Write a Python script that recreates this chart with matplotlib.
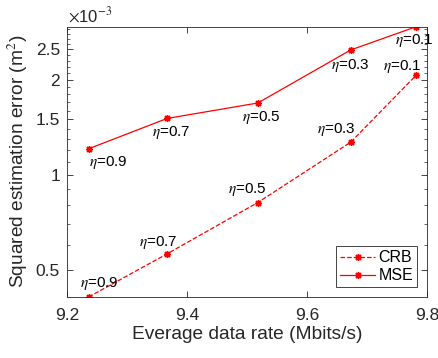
import matplotlib
matplotlib.use('Agg')
import matplotlib.pyplot as plt
from matplotlib.ticker import FixedLocator, MultipleLocator, NullFormatter

plt.rcParams['font.family'] = ['Liberation Sans', 'DejaVu Sans']
plt.rcParams['mathtext.fontset'] = 'stix'

# data (y values in units of 1e-3)
rate = [9.236, 9.367, 9.518, 9.673, 9.782]
eta = ['0.9', '0.7', '0.5', '0.3', '0.1']
crb = [0.41, 0.562, 0.817, 1.27, 2.07]
mse = [1.21, 1.51, 1.69, 2.49, 2.95]

# label offsets in pixels (dx, dy)
mse_off = [(0, -14), (-15, -14), (-16, -14), (-20, -16), (-21, -14)]
crb_off = [(-9, 13), (-28, 11), (-30, 13), (-34, 13), (-33, 9)]

gray = '#262626'
star = (8, 2, 0)  # matlab style asterisk
fig = plt.figure(figsize=(4.39, 3.58), dpi=100)
ax = fig.add_axes([0.1526, 0.1704, 0.820, 0.755])

ax.plot(rate, crb, 'r--', marker=star, lw=0.9, ms=5, mew=1.0, label='CRB')
ax.plot(rate, mse, 'r-', marker=star, lw=0.9, ms=5, mew=1.0, label='MSE')

for x, y, e, o in zip(rate, mse, eta, mse_off):
    ax.annotate(r'$\eta$=' + e, (x, y), xytext=o, textcoords='offset pixels',
                ha='left', va='center', fontsize=11)
for x, y, e, o in zip(rate, crb, eta, crb_off):
    ax.annotate(r'$\eta$=' + e, (x, y), xytext=o, textcoords='offset pixels',
                ha='left', va='center', fontsize=11)

ax.set_yscale('log')
ax.set_xlim(9.2, 9.8)
ax.set_ylim(min(crb), max(mse))
ax.set_xticks([9.2, 9.4, 9.6, 9.8])
ax.set_xticklabels(['9.2', '9.4', '9.6', '9.8'])
ax.yaxis.set_major_locator(FixedLocator([0.5, 1, 1.5, 2, 2.5]))
ax.set_yticklabels(['0.5', '1', '1.5', '2', '2.5'])
ax.yaxis.set_minor_locator(MultipleLocator(0.1))
ax.yaxis.set_minor_formatter(NullFormatter())

ax.tick_params(which='both', direction='in', top=True, right=True,
               colors=gray, labelsize=12.5, labelcolor=gray)
ax.tick_params(which='major', length=4, width=0.6)
ax.tick_params(axis='x', which='major', pad=8)
ax.tick_params(axis='y', which='major', pad=5)
ax.tick_params(which='minor', length=2, width=0.5)
for s in ax.spines.values():
    s.set_color(gray)
    s.set_linewidth(0.6)

ax.set_xlabel('Everage data rate (Mbits/s)', fontsize=13.75, color=gray, labelpad=2)
ax.set_ylabel('Squared estimation error (m$^2$)', fontsize=13.75, color=gray, labelpad=4)
ax.text(0.003, 1.005, r'$\times$10$^{-3}$', transform=ax.transAxes, fontsize=12,
        color=gray, ha='left', va='bottom')

leg = ax.legend(loc='lower right', fontsize=11.5, fancybox=False, framealpha=1,
                edgecolor=gray, handlelength=2.2, numpoints=1,
                borderaxespad=0.6, handletextpad=0.2, borderpad=0.25, labelspacing=0.2)
leg.get_frame().set_linewidth(0.6)

fig.savefig('out.png', dpi=100)
